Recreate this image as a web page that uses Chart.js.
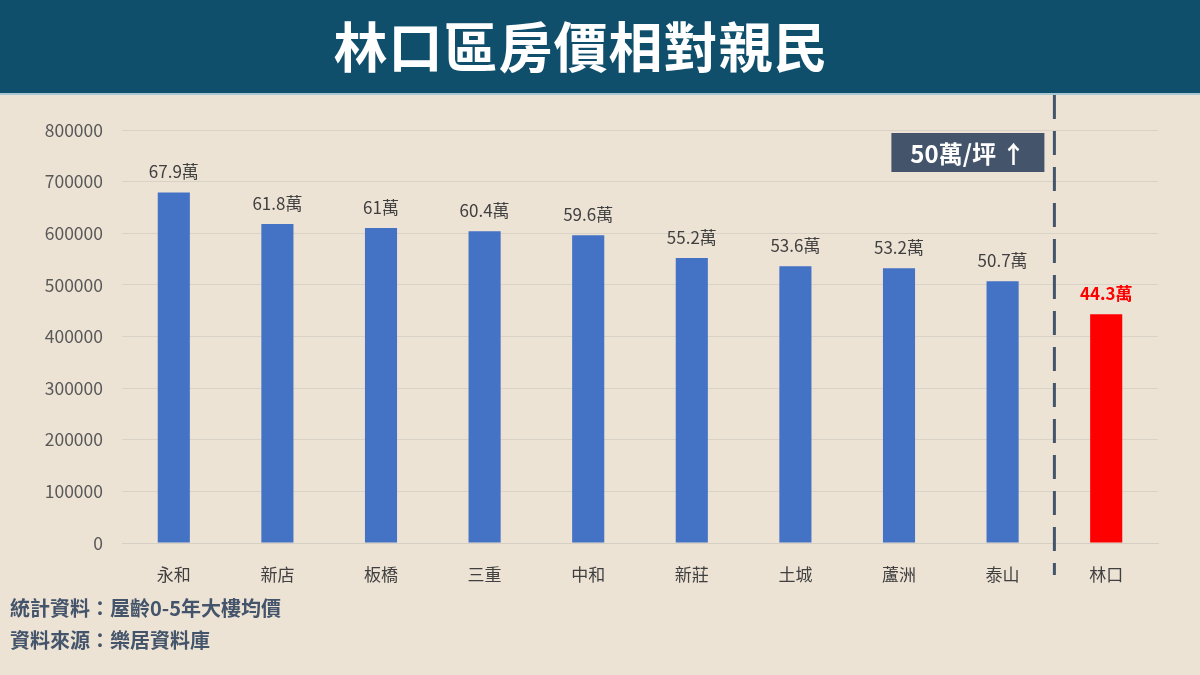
<!DOCTYPE html>
<html>
<head>
<meta charset="utf-8">
<script src="https://cdn.jsdelivr.net/npm/chart.js@4.4.1/dist/chart.umd.min.js"></script>
<style>
  html, body { margin:0; padding:0; width:1200px; height:675px; overflow:hidden; background:#ede3d5; }
  #banner { position:absolute; left:0; top:0; width:1200px; height:93px; background:#0f4f6b; border-bottom:2px solid #a9c6d3; }
  #title { position:absolute; left:0; top:-2px; width:1162px; height:93px; line-height:93px; text-align:center; color:#ffffff;
           font-family:"Noto Sans CJK TC","Noto Sans CJK SC",sans-serif; font-weight:700; font-size:54px; letter-spacing:1px; }
  #wrap { position:absolute; left:0; top:0; width:1200px; height:675px; }
  .foot { position:absolute; left:10px; color:#44546a; font-family:"Noto Sans CJK TC",sans-serif; font-weight:700; font-size:20px; }
</style>
</head>
<body>
<div id="wrap"><canvas id="c" width="1200" height="675"></canvas></div>
<div id="banner"></div>
<div id="title">林口區房價相對親民</div>
<div class="foot" style="top:593px;">統計資料：屋齡0-5年大樓均價</div>
<div class="foot" style="top:625px;">資料來源：樂居資料庫</div>
<script>
const categories = ["永和","新店","板橋","三重","中和","新莊","土城","蘆洲","泰山","林口"];
const prices = [679000, 618000, 610000, 604000, 596000, 552000, 536000, 532000, 507000, 443000];
const priceLabels = ["67.9萬","61.8萬","61萬","60.4萬","59.6萬","55.2萬","53.6萬","53.2萬","50.7萬","44.3萬"];
const yTicks = [0,100000,200000,300000,400000,500000,600000,700000,800000];
const annotationText = "50萬/坪 ↑";

const FONT = '"Noto Sans CJK TC","Noto Sans CJK SC",sans-serif';
const barColors = categories.map((c,i) => i === categories.length-1 ? "#ff0000" : "#4472c4");

const labelPlugin = {
  id: "valueLabels",
  afterDatasetsDraw(chart) {
    const ctx = chart.ctx;
    const meta = chart.getDatasetMeta(0);
    ctx.save();
    ctx.textAlign = "center";
    ctx.textBaseline = "bottom";
    meta.data.forEach((bar, i) => {
      const last = i === categories.length-1;
      ctx.fillStyle = last ? "#ff0000" : "#404040";
      ctx.font = (last ? "700 " : "400 ") + "17px " + FONT;
      ctx.fillText(priceLabels[i], bar.x, bar.y - 12);
    });
    ctx.restore();
  },
  afterDraw(chart) {
    const ctx = chart.ctx;
    const xs = chart.scales.x;
    const n = categories.length;
    const xd = (xs.getPixelForValue(n-2) + xs.getPixelForValue(n-1)) / 2;
    ctx.save();
    ctx.strokeStyle = "#44546a";
    ctx.lineWidth = 3;
    ctx.setLineDash([24, 12]);
    ctx.beginPath();
    ctx.moveTo(xd, 95);
    ctx.lineTo(xd, 575);
    ctx.stroke();
    ctx.setLineDash([]);
    const bw = 153, bh = 39;
    const bx = xd - 10 - bw, by = 133;
    ctx.fillStyle = "#44546a";
    ctx.fillRect(bx, by, bw, bh);
    ctx.fillStyle = "#ffffff";
    ctx.font = "700 24px " + FONT;
    ctx.textAlign = "center";
    ctx.textBaseline = "middle";
    ctx.fillText(annotationText, bx + bw/2, by + bh/2 + 1);
    ctx.restore();
  }
};

new Chart(document.getElementById("c"), {
  type: "bar",
  data: {
    labels: categories,
    datasets: [{ data: prices, backgroundColor: barColors, borderWidth: 0, barPercentage: 0.31, categoryPercentage: 1.0 }]
  },
  options: {
    responsive: false,
    animation: false,
    devicePixelRatio: 1,
    layout: { padding: { top: 130, right: 42, bottom: 0, left: 0 } },
    plugins: { legend: { display: false }, tooltip: { enabled: false } },
    scales: {
      x: {
        grid: { display: false, drawTicks: false },
        border: { display: true, color: "#d6cfc4", width: 1 },
        ticks: { color: "#404040", font: { family: FONT, size: 17 }, padding: 21 },
        afterFit(s) { s.height = 132; }
      },
      y: {
        min: 0, max: 800000,
        afterBuildTicks(s) { s.ticks = yTicks.map(v => ({ value: v })); },
        grid: { color: "#d9d2c6", lineWidth: 1, drawTicks: false },
        border: { display: false },
        ticks: { color: "#595959", font: { family: FONT, size: 17.5 }, padding: 19, callback: v => String(v) },
        afterFit(s) { s.width = 122; }
      }
    }
  },
  plugins: [labelPlugin]
});
</script>
</body>
</html>
